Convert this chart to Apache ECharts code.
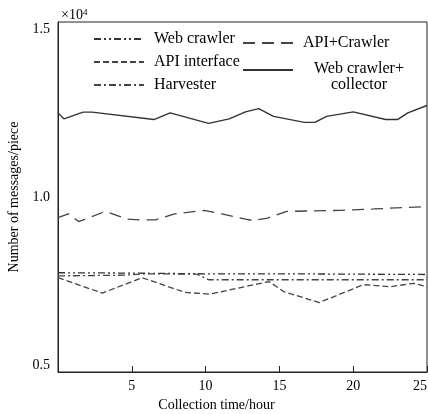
<!DOCTYPE html>
<html>
<head>
<meta charset="utf-8">
<script src="https://cdn.jsdelivr.net/npm/echarts@6/dist/echarts.min.js"></script>
<style>
  html, body { margin: 0; padding: 0; background: #fff; }
  #chart { width: 428px; height: 414px; }
</style>
</head>
<body>
<div id="chart"></div>
<script>
// Messages collected over time, five collection methods.
// x = collection time (hours), y = number of messages (pieces).

const webCrawler = [[0, 7748], [5, 7737], [10, 7716], [15, 7716], [20, 7706], [25, 7695]];
const harvester = [[0, 7654], [4.5, 7675], [6, 7716], [9.4, 7706], [10.2, 7539], [15, 7539], [20, 7539], [25, 7539]];
const apiInterface = [[0, 7601], [3, 7142], [5.7, 7601], [8.6, 7163], [10.3, 7110], [14.3, 7486], [15.3, 7183],
  [17.7, 6860], [20.7, 7392], [22.5, 7330], [24.1, 7434], [25, 7330]];
const apiCrawler = [[0, 9388], [0.7, 9503], [1.4, 9273], [3.2, 9576], [4.7, 9346], [5.5, 9325], [6.6, 9325],
  [7.9, 9503], [9.9, 9607], [11.1, 9503], [12.7, 9346], [13.2, 9304], [14.2, 9378], [15.5, 9576],
  [19.1, 9607], [21.4, 9649], [25, 9722]];
const crawlerCollector = [[0, 12512], [0.4, 12334], [1.7, 12533], [2.3, 12533], [6.5, 12313], [7.6, 12512],
  [10.2, 12198], [11.6, 12334], [12.7, 12543], [13.6, 12637], [14.6, 12407], [16.7, 12230], [17.4, 12230],
  [18.2, 12407], [20, 12543], [22.2, 12313], [23, 12313], [23.7, 12512], [25, 12731]];

const yLabels = [5000, 10000, 15000];

const FONT = 'Liberation Serif';
const chart = echarts.init(document.getElementById('chart'));

function line(name, data, type, color, width) {
  return {
    name, type: 'line', data, symbol: 'none', smooth: false,
    lineStyle: { color, width: width || 1.3, type },
    itemStyle: { color },
  };
}

// legend icons are plain line samples, no marker dot
const legendBase = {
  orient: 'vertical',
  padding: 0,
  itemWidth: 50,
  itemHeight: 14,
  itemGap: 7,
  selectedMode: false,
  itemStyle: { color: 'transparent', borderColor: 'transparent', borderWidth: 0, opacity: 0 },
  textStyle: { fontFamily: FONT, fontSize: 16, color: '#000', padding: [0, 0, 0, 5] },
};

chart.setOption({
  animation: false,
  title: {
    text: '×10{s|4}',
    left: 56, top: 3,
    textStyle: {
      fontFamily: FONT, fontSize: 14, fontWeight: 'normal', color: '#000',
      rich: { s: { fontFamily: FONT, fontSize: 9, verticalAlign: 'top', padding: [0, 0, 6, 0] } },
    },
  },
  legend: [
    Object.assign({}, legendBase, { left: 93, top: 31, data: ['Web crawler', 'API interface', 'Harvester'] }),
    Object.assign({}, legendBase, { left: 242, top: 35, data: ['API+Crawler'] }),
    Object.assign({}, legendBase, {
      left: 242, top: 61, data: ['Web crawler+collector'],
      formatter: () => '{c|Web crawler+}\n{c|collector}',
      textStyle: {
        fontFamily: FONT, fontSize: 16, color: '#000', padding: [14, 0, 0, 5],
        rich: { c: { fontFamily: FONT, fontSize: 16, width: 112, align: 'center', lineHeight: 16 } },
      },
    }),
  ],
  grid: {
    left: 58, right: 1, top: 22, bottom: 42, outerBoundsMode: 'none',
    show: true, borderColor: '#222', borderWidth: 1,
  },
  xAxis: {
    type: 'value', min: 0, max: 25, interval: 5,
    name: 'Collection time/hour', nameLocation: 'middle', nameGap: 22,
    nameTextStyle: { fontFamily: FONT, fontSize: 14, color: '#000', padding: [0, 52, 0, 0] },
    axisLine: { lineStyle: { color: '#222', width: 1 } },
    axisTick: { inside: true, length: 6, lineStyle: { color: '#222' } },
    axisLabel: {
      fontFamily: FONT, fontSize: 14, color: '#000', margin: 7, alignMaxLabel: 'right',
      formatter: (v) => (v === 0 ? '' : String(v)),
    },
    splitLine: { show: false },
  },
  yAxis: {
    type: 'value', min: 4790, max: 15220,
    name: 'Number of messages/piece', nameLocation: 'middle', nameGap: 32,
    nameTextStyle: { fontFamily: FONT, fontSize: 14, color: '#000' },
    axisLine: { show: true, lineStyle: { color: '#222', width: 1 } },
    axisTick: { show: false },
    axisLabel: {
      fontFamily: FONT, fontSize: 14, color: '#000', margin: 8,
      customValues: yLabels,
      formatter: (v) => (v / 10000).toFixed(1),
    },
    splitLine: { show: false },
  },
  series: [
    line('Web crawler', webCrawler, [7, 3, 2, 3, 2, 3], '#333'),
    line('API interface', apiInterface, [6, 3], '#444'),
    line('Harvester', harvester, [7, 3, 2, 3], '#444'),
    line('API+Crawler', apiCrawler, [12, 7], '#444'),
    line('Web crawler+collector', crawlerCollector, 'solid', '#333', 1.4),
  ],
});
</script>
</body>
</html>
